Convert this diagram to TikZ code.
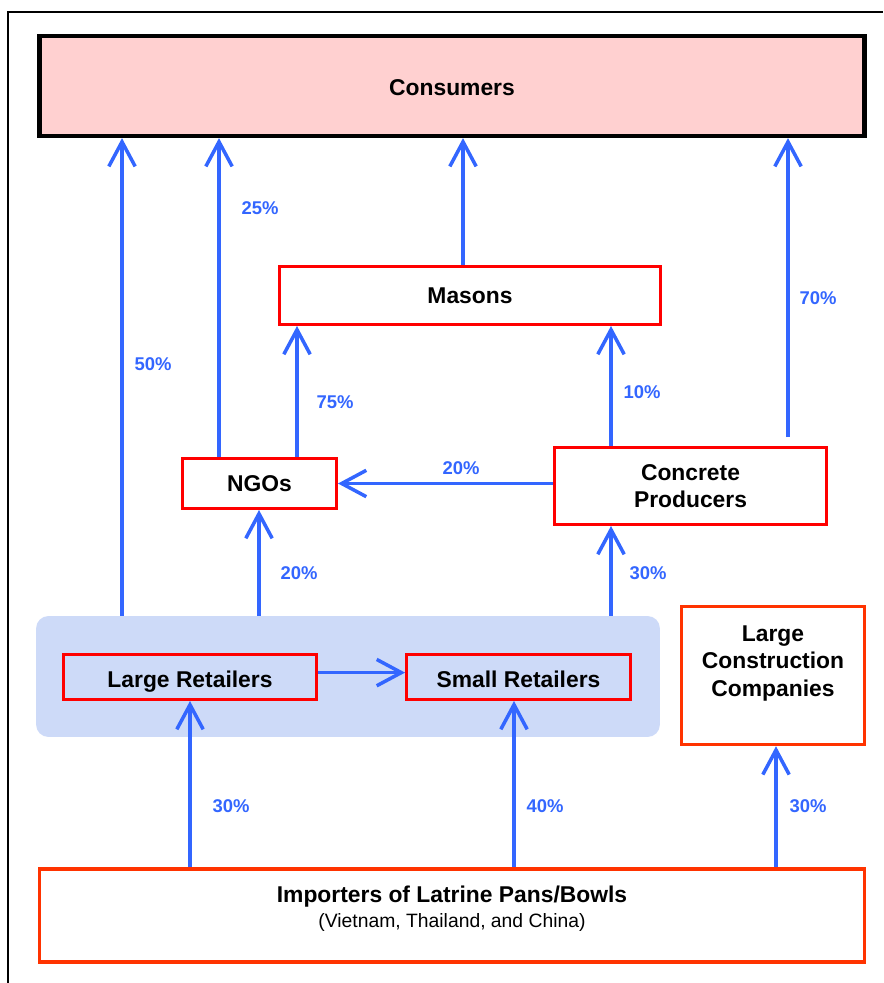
\documentclass[tikz,border=0pt]{standalone}
\usepackage{fontspec}
\setmainfont{Liberation Sans}
\usepackage{tikz}
\usetikzlibrary{arrows.meta}
\usepackage{xcolor}

\definecolor{flowblue}{RGB}{51,102,255}
\definecolor{boxred}{RGB}{255,0,0}
\definecolor{boxorange}{RGB}{255,51,0}
\definecolor{pinkfill}{RGB}{255,208,208}
\definecolor{bluefill}{RGB}{205,218,248}

\tikzset{
  actor/.style={draw=boxred, line width=1.7pt, align=center, inner sep=0pt,
    font=\fontsize{13}{15.6}\selectfont\bfseries},
  source/.style={draw=boxorange, line width=2pt, align=center, inner sep=0pt,
    font=\fontsize{13}{15.6}\selectfont\bfseries},
  flow/.style={draw=flowblue, line width=2pt, -{Straight Barb[length=14pt,width=15pt]}},
  pct/.style={text=flowblue, font=\fontsize{10.5}{12}\selectfont\bfseries},
}

\begin{document}
\begin{tikzpicture}[x=0.02cm, y=-0.02cm]
        \useasboundingbox (0,0) rectangle (883,983);
        \draw[line width=1.1pt] (8,983)--(8,12)--(883,12);

        \node[fill=bluefill, rounded corners=0.25cm, minimum width=12.48cm, minimum height=2.42cm] (region) at (348,676.5){};

        \node[draw, line width=2.4pt, fill=pinkfill, minimum width=16.5cm, minimum height=2cm, text height=11pt, text depth=0pt, font=\fontsize{13}{15.6}\selectfont\bfseries] (cons) at (452,86){Consumers};
        \node[actor, minimum width=7.62cm, minimum height=1.16cm] (mason) at (470,295.5){Masons};
        \node[actor, minimum width=3.08cm, minimum height=1cm] (ngo) at (259.5,483.5){NGOs};
        \node[actor, minimum width=5.44cm, minimum height=1.54cm] (conc) at (690.5,486){Concrete\\Producers};
        \node[actor, minimum width=5.06cm, minimum height=0.9cm, text height=12.4pt, text depth=0pt] (large) at (190,677){Large Retailers};
        \node[actor, minimum width=4.48cm, minimum height=0.9cm, text height=12.4pt, text depth=0pt] (small) at (518.5,677){Small Retailers};
        \node[source, minimum width=3.66cm, minimum height=2.76cm, text depth=16.6pt] (lcc) at (773,675.5){Large\\Construction\\Companies};
        \node[source, minimum width=16.5cm, minimum height=1.86cm, text depth=10pt] (imp) at (452,915.5){Importers of Latrine Pans/Bowls\\[-1.5pt]{\mdseries\fontsize{11}{13}\selectfont (Vietnam, Thailand, and China)}};

        \coordinate (c50) at (122,0);
        \coordinate (c25) at (219,0);
        \coordinate (c75) at (297,0);
        \coordinate (cmas) at (463,0);
        \coordinate (c10) at (611,0);
        \coordinate (c70) at (788,0);
        \coordinate (c20) at (259,0);
        \coordinate (cl) at (190,0);
        \coordinate (cs) at (514,0);
        \coordinate (cc) at (776,0);

        \draw[flow] (region.north -| c50)--(cons.south -| c50);
        \draw[flow] (ngo.north -| c25)--(cons.south -| c25);
        \draw[flow] (ngo.north -| c75)--(mason.south -| c75);
        \draw[flow] (mason.north -| cmas)--(cons.south -| cmas);
        \draw[flow] (conc.north -| c10)--(mason.south -| c10);
        \draw[flow] ([yshift=5pt]conc.north -| c70)--(cons.south -| c70);
        \draw[flow] (conc.west |- ngo.east)--(ngo.east);
        \draw[flow] (region.north -| c20)--(ngo.south -| c20);
        \draw[flow] (region.north -| c10)--(conc.south -| c10);
        \draw[flow] ([yshift=2.5pt]large.east)--([yshift=2.5pt]small.west);
        \draw[flow] (imp.north -| cl)--(large.south -| cl);
        \draw[flow] (imp.north -| cs)--(small.south -| cs);
        \draw[flow] (imp.north -| cc)--(lcc.south -| cc);

        \node[pct] (p50) at (153,364){50\%};
        \node[pct] (p25) at (260,208){25\%};
        \node[pct] (p75) at (335,402){75\%};
        \node[pct] (p10) at (642,392){10\%};
        \node[pct] (p70) at (818,298){70\%};
        \node[pct] (p20h) at (461,468){20\%};
        \node[pct] (p20) at (299,573){20\%};
        \node[pct] (p30c) at (648,573){30\%};
        \node[pct] (p30l) at (231,806){30\%};
        \node[pct] (p40) at (545,806){40\%};
        \node[pct] (p30lcc) at (808,806){30\%};
\end{tikzpicture}
\end{document}
